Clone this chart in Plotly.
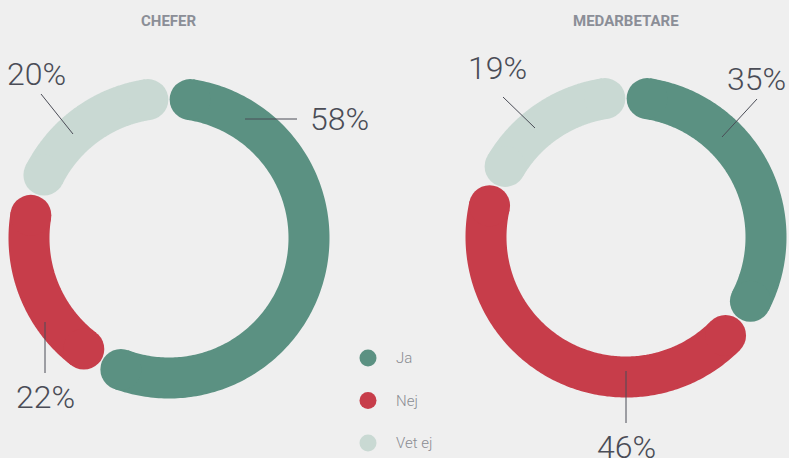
import numpy as np
import plotly.graph_objects as go

# ---- data ----
categories = ["Ja", "Nej", "Vet ej"]
group_titles = ["CHEFER", "MEDARBETARE"]
chefer_values = [58, 22, 20]
medarbetare_values = [35, 46, 19]
colors = ["#5b9182", "#c73d4a", "#c9d9d3"]

# ---- layout constants (pixels) ----
W, H = 789, 458
BG = "#efefef"
centers = [(169, 238), (626, 237)]
R_MID = 140
STROKE = 41
GAP_DEG = 0.6

# label placement per donut/category: (text x, text y, leader x0, y0, x1, y1)
label_pos = [
    [(339, 119, 245, 119, 297, 119),   # 58%
     (45, 397, 45, 322, 45, 373),      # 22%
     (36, 74, 41, 94, 73, 134)],       # 20%
    [(756, 79, 757, 99, 722, 137),     # 35%
     (626, 447, 626, 371, 626, 423),   # 46%
     (497, 68, 503, 97, 535, 128)],    # 19%
]

fig = go.Figure()
cap_deg = np.degrees((STROKE / 2) / R_MID)

for d, vals in enumerate([chefer_values, medarbetare_values]):
    cx, cy = centers[d]
    total = sum(vals)
    start = 0.0
    for i, v in enumerate(vals):
        span = 360.0 * v / total
        a0 = start + cap_deg + GAP_DEG / 2
        a1 = start + span - cap_deg - GAP_DEG / 2
        th = np.radians(np.linspace(a0, a1, 200))
        xs = cx + R_MID * np.sin(th)
        ys = cy - R_MID * np.cos(th)
        fig.add_trace(go.Scatter(x=xs, y=ys, mode="lines",
                                 line=dict(color=colors[i], width=STROKE, simplify=False),
                                 hoverinfo="skip", showlegend=False))
        fig.add_trace(go.Scatter(x=[xs[0], xs[-1]], y=[ys[0], ys[-1]], mode="markers",
                                 marker=dict(color=colors[i], size=STROKE, line=dict(width=0)),
                                 hoverinfo="skip", showlegend=False))
        tx, ty, lx0, ly0, lx1, ly1 = label_pos[d][i]
        fig.add_shape(type="line", x0=lx0, y0=ly0, x1=lx1, y1=ly1,
                      line=dict(color="#4a4c56", width=1))
        fig.add_annotation(x=tx, y=ty, text=f"{v}%", showarrow=False,
                           font=dict(family="Roboto", size=32, color="#4a4c56", weight=300),
                           xanchor="center", yanchor="middle")
        start += span
    fig.add_annotation(x=cx, y=21, text=f"<b>{group_titles[d]}</b>", showarrow=False,
                       font=dict(family="Roboto", size=15, color="#8b8e97"),
                       xanchor="center", yanchor="middle")

# custom legend
leg_x, leg_y0, leg_dy = 368, 358, 42.5
for i, c in enumerate(categories):
    fig.add_trace(go.Scatter(x=[leg_x], y=[leg_y0 + i * leg_dy], mode="markers",
                             marker=dict(color=colors[i], size=17, line=dict(width=0)),
                             hoverinfo="skip", showlegend=False))
    fig.add_annotation(x=leg_x + 26, y=leg_y0 + i * leg_dy, text=c, showarrow=False,
                       font=dict(family="Roboto", size=15, color="#8a8c92", weight=300),
                       xanchor="left", yanchor="middle")

fig.update_layout(
    width=W, height=H,
    margin=dict(l=0, r=0, t=0, b=0),
    paper_bgcolor=BG, plot_bgcolor=BG,
    xaxis=dict(range=[0, W], visible=False, fixedrange=True),
    yaxis=dict(range=[H, 0], visible=False, fixedrange=True),
    showlegend=False,
)

fig.write_html("out.html", config={"displayModeBar": False},
               post_script="document.body.style.margin='0';document.body.style.overflow='hidden';")
